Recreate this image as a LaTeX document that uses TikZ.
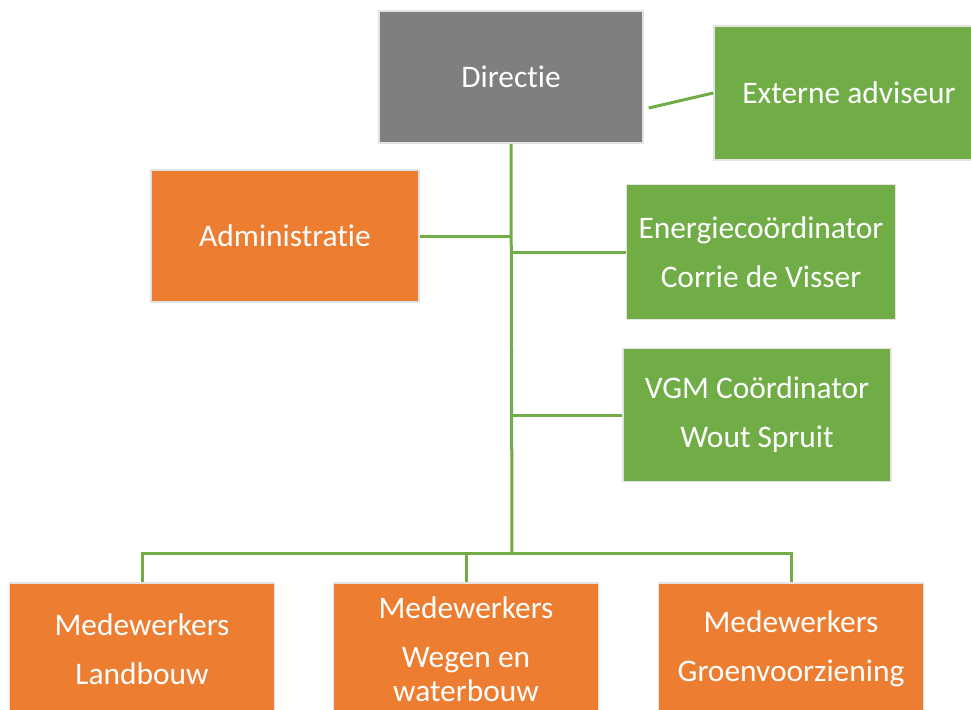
\documentclass[tikz,border=0pt]{standalone}
\usepackage{fontspec}
\setmainfont{Carlito}[Ligatures=NoCommon]
\usepackage{xcolor}
\usetikzlibrary{calc,positioning}
\definecolor{orgorange}{HTML}{ED7D31}
\definecolor{orggreen}{HTML}{70AD47}
\definecolor{orggray}{HTML}{7F7F7F}
\definecolor{orgedge}{HTML}{E3E3E3}

\begin{document}
\begin{tikzpicture}[
  x=0.5pt, y=-0.5pt,
  box/.style={draw=orgedge, line width=0.75pt, inner sep=0pt, align=center, text=white,
    minimum width=133pt, minimum height=66pt, font=\fontsize{15.7}{17}\selectfont},
  link/.style={orggreen, line width=1.5pt}
]
  \useasboundingbox (0,0) rectangle (971,709);

  % Top level
  \node[box, fill=orggray, minimum width=132pt] (dir) at (511,77) {Directie};
  \node[box, fill=orggreen, minimum width=135pt, minimum height=67pt] (ext) at (849,93) {Externe adviseur};
  \draw[link] ($(dir.east)+(5,31)$) -- (ext.west);

  % Staff
  \node[box, fill=orgorange, minimum width=134pt] (adm) at (285,236) {Administratie};
  \node[box, fill=orggreen, minimum width=134.5pt, minimum height=67.5pt] (energie) at (761,252)
    {Energieco\"ordinator\\[7.5pt]Corrie de Visser};
  \node[box, fill=orggreen, minimum width=134pt, minimum height=66.5pt] (vgm) at (757,415)
    {VGM Co\"ordinator\\[7.5pt]Wout Spruit};

  % Trunk
  \coordinate (bus) at (512,553);
  \draw[link] (dir.south) -- (bus);
  \draw[link] (adm.east) -- (adm.east -| bus);
  \draw[link] (energie.west) -- (energie.west -| bus);
  \draw[link] (vgm.west) -- (vgm.west -| bus);

  % Medewerkers
  \node[box, fill=orgorange, minimum width=132.5pt] (land) at (142,649) {Medewerkers\\[7.5pt]Landbouw};
  \node[box, fill=orgorange, minimum width=132.5pt] (weg) at (466,649) {Medewerkers\\[7.5pt]Wegen en\\waterbouw};
  \node[box, fill=orgorange, minimum width=132.5pt] (groen) at (791,649) {Medewerkers\\[7.5pt]Groenvoorziening};
  \foreach \nm in {land,weg,groen}
    \draw[link] (bus) -| (\nm.north);

\end{tikzpicture}
\end{document}
